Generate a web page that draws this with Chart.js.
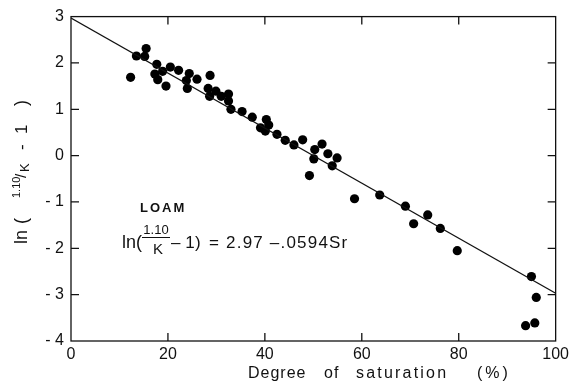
<!DOCTYPE html>
<html>
<head>
<meta charset="utf-8">
<script src="https://cdn.jsdelivr.net/npm/chart.js@4/dist/chart.umd.min.js"></script>
<style>
  html, body { margin: 0; padding: 0; background: #fff; }
  #wrap { width: 573px; height: 388px; }
</style>
</head>
<body>
<div id="wrap"><canvas id="chart"></canvas></div>
<script>
// Loam: degree of saturation (%) vs ln(1.10/K - 1)
const saturation = [
  12.3, 13.5, 15.2, 15.5, 17.7, 17.3, 17.9, 18.9, 20.5, 19.6,
  22.2, 24.4, 23.8, 24.0, 26.0, 28.7, 28.3, 28.6, 29.9, 31.0,
  32.5, 32.5, 33.0, 35.3, 37.4, 40.3, 39.1, 40.1, 40.8, 42.5,
  44.2, 46.0, 47.8, 50.3, 51.8, 50.1, 53.0, 54.9, 53.9, 49.2,
  58.5, 63.7, 69.0, 70.7, 73.6, 76.2, 79.7, 95.0, 96.0, 93.8, 95.7
];
const lnValue = [
  1.69, 2.15, 2.14, 2.31, 1.97, 1.76, 1.64, 1.82, 1.91, 1.50,
  1.84, 1.77, 1.62, 1.45, 1.65, 1.73, 1.45, 1.28, 1.39, 1.28,
  1.33, 1.18, 1.00, 0.95, 0.83, 0.78, 0.60, 0.53, 0.66, 0.46,
  0.33, 0.23, 0.34, 0.13, 0.25, -0.07, 0.04, -0.05, -0.22, -0.43,
  -0.93, -0.85, -1.09, -1.47, -1.28, -1.57, -2.05, -2.61, -3.06, -3.67, -3.61
];
const fitIntercept = 2.97;
const fitSlope = -0.0594;
const fitRange = [0, 100];
const xTicks = [0, 20, 40, 60, 80, 100];
const yTicks = [3, 2, 1, 0, -1, -2, -3, -4];

const points = saturation.map((s, i) => ({ x: s, y: lnValue[i] }));
const fitLine = fitRange.map(s => ({ x: s, y: fitIntercept + fitSlope * s }));

const FONT = '"Liberation Sans", Arial, sans-serif';
const INK = '#111';

function spacing(ctx, px) {
  if ('letterSpacing' in ctx) ctx.letterSpacing = px + 'px';
}

// frame with inward ticks on all four sides, plus axis titles and the fit note
const framePlugin = {
  id: 'frame',
  afterDraw(chart) {
    const { ctx, chartArea: a, scales: { x, y } } = chart;
    ctx.save();
    ctx.strokeStyle = INK;
    ctx.lineWidth = 1.3;
    ctx.strokeRect(a.left, a.top, a.right - a.left, a.bottom - a.top);

    const len = 8;
    ctx.beginPath();
    xTicks.slice(1, -1).forEach(v => {
      const px = x.getPixelForValue(v);
      ctx.moveTo(px, a.bottom); ctx.lineTo(px, a.bottom - len);
      ctx.moveTo(px, a.top); ctx.lineTo(px, a.top + len);
    });
    yTicks.slice(1, -1).forEach(v => {
      const py = y.getPixelForValue(v);
      ctx.moveTo(a.left, py); ctx.lineTo(a.left + len, py);
      ctx.moveTo(a.right, py); ctx.lineTo(a.right - len, py);
    });
    ctx.stroke();

    ctx.fillStyle = INK;
    ctx.textBaseline = 'middle';
    ctx.textAlign = 'left';

    // x title, words spread out
    ctx.font = '16px ' + FONT;
    spacing(ctx, 1);
    ctx.fillText('Degree', 248, 374);
    ctx.fillText('of', 324, 374);
    spacing(ctx, 2.2);
    ctx.fillText('saturation', 356, 374);
    spacing(ctx, 3);
    ctx.fillText('(%)', 477, 374);
    spacing(ctx, 0);

    // y title, rotated: ln( 1.10/K - 1 )
    ctx.save();
    ctx.translate(22, 244);
    ctx.rotate(-Math.PI / 2);
    const put = (t, size, u, v) => {
      ctx.font = size + 'px ' + FONT;
      ctx.fillText(t, u, v);
    };
    put('ln', 18, 0, 0);
    put('(', 18, 20, 0);
    put('1.10', 11, 46, -5);
    put('/', 15, 66, 0);
    put('K', 13, 72, 3);
    put('-', 17, 94, 0);
    put('1', 17, 110, 0);
    put(')', 18, 138, 0);
    ctx.restore();

    // soil label and fitted equation
    ctx.font = 'bold 13px ' + FONT;
    spacing(ctx, 2);
    ctx.fillText('LOAM', 140, 208);
    spacing(ctx, 0);

    ctx.font = '18px ' + FONT;
    ctx.fillText('ln(', 122, 243);
    ctx.font = '13px ' + FONT;
    ctx.textAlign = 'center';
    ctx.fillText('1.10', 156, 230);
    ctx.font = '15px ' + FONT;
    ctx.fillText('K', 158, 250);
    ctx.beginPath();
    ctx.lineWidth = 1;
    ctx.moveTo(142, 237.5); ctx.lineTo(170, 237.5);
    ctx.stroke();
    ctx.textAlign = 'left';
    ctx.font = '17px ' + FONT;
    ctx.fillText('\u2013 1', 171, 243);
    ctx.fillText(')', 195, 243);
    spacing(ctx, 1.2);
    ctx.fillText('= 2.97 \u2013.0594Sr', 209, 243);
    spacing(ctx, 0);
    ctx.restore();
  }
};

new Chart(document.getElementById('chart'), {
  type: 'scatter',
  data: {
    datasets: [
      {
        label: 'fit',
        type: 'line',
        data: fitLine,
        borderColor: INK,
        borderWidth: 1.3,
        pointRadius: 0,
        fill: false
      },
      {
        label: 'loam',
        data: points,
        backgroundColor: '#000',
        borderColor: '#000',
        pointRadius: 4.6,
        borderWidth: 0
      }
    ]
  },
  options: {
    responsive: true,
    maintainAspectRatio: false,
    animation: false,
    layout: { padding: { top: 14, right: 8, left: 0, bottom: 0 } },
    plugins: {
      legend: { display: false },
      tooltip: { enabled: false }
    },
    scales: {
      x: {
        type: 'linear',
        min: 0,
        max: 100,
        afterBuildTicks: s => { s.ticks = xTicks.map(v => ({ value: v })); },
        grid: { display: false, drawTicks: false },
        border: { display: false },
        ticks: {
          color: INK,
          padding: 4,
          font: { family: FONT, size: 16 },
          maxRotation: 0
        },
        afterFit: s => { s.height = 47; }
      },
      y: {
        type: 'linear',
        min: -4,
        max: 3,
        afterBuildTicks: s => { s.ticks = yTicks.map(v => ({ value: v })); },
        grid: { display: false, drawTicks: false },
        border: { display: false },
        ticks: {
          color: INK,
          padding: 7,
          font: { family: FONT, size: 16 },
          callback: v => v < 0 ? '- ' + Math.abs(v) : String(v)
        },
        afterFit: s => { s.width = 71; }
      }
    }
  },
  plugins: [framePlugin]
});
</script>
</body>
</html>
